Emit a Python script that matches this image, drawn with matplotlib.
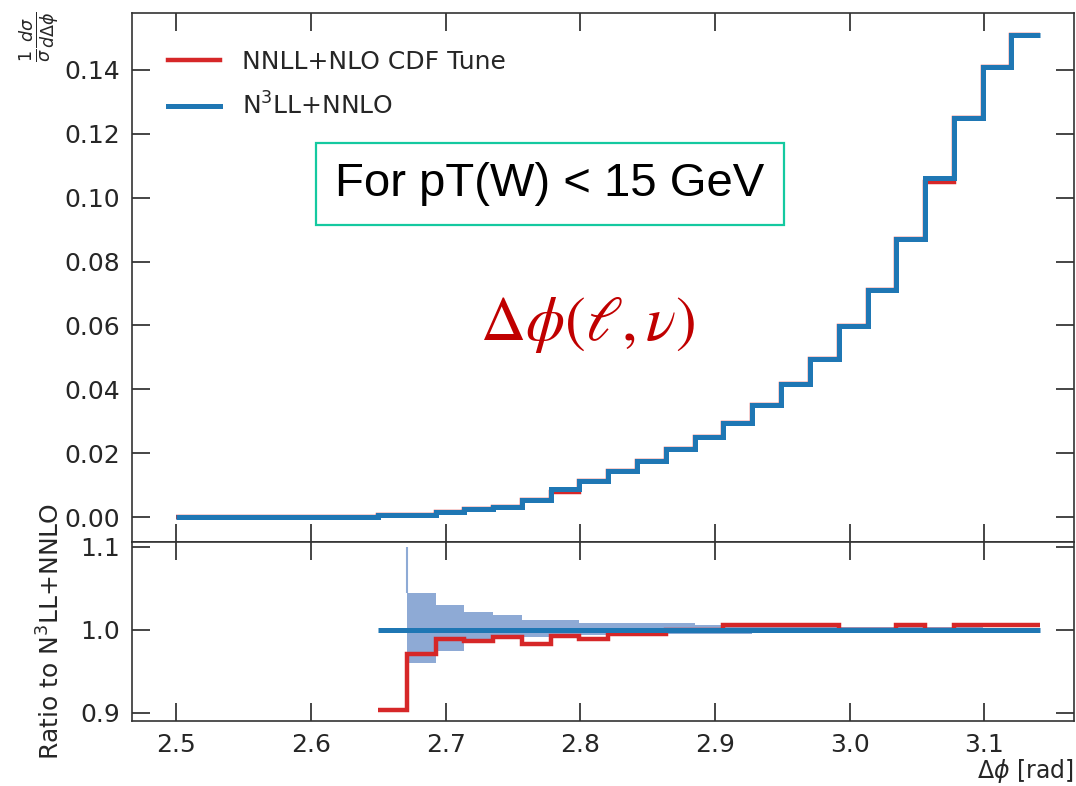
import numpy as np
import matplotlib
matplotlib.use("Agg")
from matplotlib import pyplot as plt

# bin edges in delta phi (30 bins from 2.5 to pi)
edges = [2.5000, 2.5214, 2.5428, 2.5642, 2.5855, 2.6069, 2.6283, 2.6497,
         2.6711, 2.6925, 2.7139, 2.7353, 2.7566, 2.7780, 2.7994, 2.8208,
         2.8422, 2.8636, 2.8850, 2.9063, 2.9277, 2.9491, 2.9705, 2.9919,
         3.0133, 3.0347, 3.0561, 3.0774, 3.0988, 3.1202, 3.1416]

# normalised distribution, N3LL+NNLO
n3ll = [0.0, 0.0, 0.0, 0.0, 0.0, 0.0, 0.0, 0.0008, 0.0008, 0.0016,
        0.0025, 0.0033, 0.0054, 0.0089, 0.0113, 0.0144, 0.0176, 0.0213,
        0.0252, 0.0296, 0.0351, 0.0416, 0.0495, 0.0598, 0.0712, 0.0870,
        0.1063, 0.1249, 0.1410, 0.1510]
# NNLL+NLO CDF tune
nnll = [0.0, 0.0, 0.0, 0.0, 0.0, 0.0, 0.0, 0.0008, 0.0008, 0.0016,
        0.0025, 0.0033, 0.0054, 0.0080, 0.0113, 0.0144, 0.0176, 0.0213,
        0.0252, 0.0296, 0.0351, 0.0416, 0.0495, 0.0598, 0.0712, 0.0870,
        0.1048, 0.1249, 0.1410, 0.1510]

# ratio panel, defined from bin 8 (2.65) on
ratio_first = 7
ratio_nnll = [0.903, 0.971, 0.989, 0.986, 0.991, 0.983, 0.992, 0.988,
              0.995, 0.995, 1.000, 1.000, 1.005, 1.005, 1.005, 1.005,
              1.000, 1.000, 1.005, 1.000, 1.005, 1.005, 1.005]
ratio_n3ll = [1.0] * 23

# scale band of N3LL+NNLO, defined from bin 9 on
band_first = 8
band_hi = [1.044, 1.029, 1.021, 1.017, 1.011, 1.011, 1.008, 1.008, 1.008,
           1.008, 1.006, 1.004, 1.004, 1.004, 1.004, 1.003, 1.003, 1.003,
           1.003, 1.003, 1.002, 1.002]
band_lo = [0.960, 0.974, 0.984, 0.989, 0.991, 0.991, 0.993, 0.994, 0.994,
           0.995, 0.995, 0.995, 0.998, 0.998, 0.998, 0.998, 0.998, 0.998,
           0.998, 0.998, 0.998, 0.998]
band_spike = 1.099

RED = "#d62728"
BLUE = "#1f77b4"
BAND = "#8eaad5"
INK = "#262626"

plt.rcParams["font.family"] = ["DejaVu Sans"]
plt.rcParams["mathtext.fontset"] = "dejavusans"

fig = plt.figure(figsize=(10.76, 7.86), dpi=100)
ax1 = fig.add_axes([0.1227, 0.3104, 0.8755, 0.6730])
ax2 = fig.add_axes([0.1227, 0.0827, 0.8755, 0.2277], sharex=ax1)

e = np.array(edges)

# upper panel
ax1.stairs(nnll, e, baseline=None, color=RED, lw=3.2, label="NNLL+NLO CDF Tune")
ax1.stairs(n3ll, e, baseline=None, color=BLUE, lw=3.6, label=r"N$^3$LL+NNLO")
ax1.set_ylim(-0.0078, 0.1578)
ax1.set_yticks(np.arange(0, 0.141, 0.02))
ax1.yaxis.set_major_formatter(matplotlib.ticker.FormatStrFormatter("%.2f"))
ax1.tick_params(labelbottom=False)

leg = ax1.legend(loc="upper left", bbox_to_anchor=(0.038, 0.93), frameon=False,
                 fontsize=18, handlelength=2.1, handletextpad=0.85,
                 labelspacing=0.75, borderpad=0, borderaxespad=0)
for t in leg.get_texts():
    t.set_color(INK)

ax1.text(0.4437, 0.677, "For pT(W) < 15 GeV", transform=ax1.transAxes,
         ha="center", va="center", fontsize=34, family="Liberation Sans",
         color="black",
         bbox=dict(boxstyle="square,pad=0.4", fc="white", ec="#14c9a0", lw=1.6))
ax1.text(0.484, 0.412, r"$\Delta\phi(\ell,\nu)$", transform=ax1.transAxes,
         ha="center", va="center", fontsize=45, color="#c00000",
         math_fontfamily="stix")

ax1.set_ylabel(r"$\frac{1}{\sigma}\frac{d\sigma}{d\Delta\phi}$", fontsize=18,
               loc="top", color=INK)
ax1.yaxis.set_label_coords(-0.074, 1.003)

# ratio panel
re = e[ratio_first:]
be = e[band_first:]
ax2.stairs(band_hi, be, baseline=band_lo, fill=True, color=BAND, lw=0)
ax2.vlines(be[0], band_hi[0], band_spike, color=BAND, lw=1.5)
ax2.stairs(ratio_nnll, re, baseline=None, color=RED, lw=3.2)
ax2.stairs(ratio_n3ll, re, baseline=None, color=BLUE, lw=3.6)
ax2.set_ylim(0.8898, 1.1054)
ax2.set_yticks([0.9, 1.0, 1.1])
ax2.set_xlim(2.4671, 3.1667)
ax2.set_xticks([2.5, 2.6, 2.7, 2.8, 2.9, 3.0, 3.1])
ax2.set_ylabel(r"Ratio to N$^3$LL+NNLO", fontsize=18, color=INK)
ax2.yaxis.set_label_coords(-0.072, 0.5)
ax2.set_xlabel(r"$\Delta\phi$ [rad]", fontsize=17, loc="right", color=INK,
               labelpad=0)

for ax in (ax1, ax2):
    ax.tick_params(direction="in", length=13, width=1.2, top=True, right=True,
                   labelsize=18, colors=INK, pad=8.5)
    for s in ax.spines.values():
        s.set_linewidth(1.2)
        s.set_color("#333333")

fig.savefig("out.png", dpi=100)
